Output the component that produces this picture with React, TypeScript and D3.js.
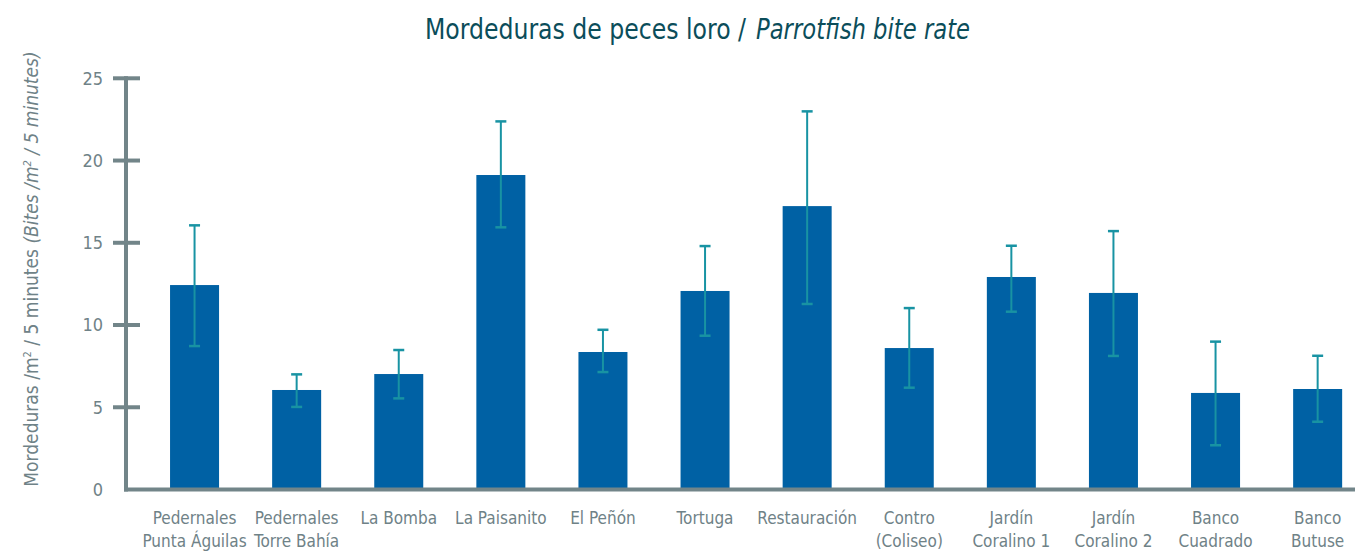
import React from "react";
import * as d3 from "d3";

const categories: string[][] = [
  ["Pedernales", "Punta Águilas"],
  ["Pedernales", "Torre Bahía"],
  ["La Bomba"],
  ["La Paisanito"],
  ["El Peñón"],
  ["Tortuga"],
  ["Restauración"],
  ["Contro", "(Coliseo)"],
  ["Jardín", "Coralino 1"],
  ["Jardín", "Coralino 2"],
  ["Banco", "Cuadrado"],
  ["Banco", "Butuse"],
];
const values = [12.43, 6.05, 7.02, 19.12, 8.36, 12.07, 17.23, 8.6, 12.92, 11.95, 5.87, 6.11];
const errLow = [8.72, 5.02, 5.54, 15.94, 7.14, 9.35, 11.28, 6.19, 10.81, 8.12, 2.69, 4.12];
const errHigh = [16.06, 7.0, 8.48, 22.38, 9.71, 14.8, 22.99, 11.03, 14.82, 15.71, 8.99, 8.13];
const yTicks = [0, 5, 10, 15, 20, 25];

const W = 1355;
const H = 556;
const FONT = "'Liberation Sans Narrow', 'DejaVu Sans Condensed', 'Roboto', sans-serif";
const AXIS = "#728589";
const BAR = "#0061a4";
const ERR = "#1893a3";
const LABEL = "#6f8287";

export default function App() {
  const ids = categories.map((_, i) => String(i));
  const x = d3.scaleBand<string>().domain(ids).range([143.5, 1368.7]).paddingInner(0.52).paddingOuter(0.26);
  const y = d3.scaleLinear().domain([0, 25]).range([489.5, 78.3]);
  const axisX = 126;

  return (
    <svg width={W} height={H} style={{ position: "absolute", left: 0, top: 0, background: "#fff" }}>
      <text x={425} y={39} textLength={321} lengthAdjust="spacingAndGlyphs" fontFamily={FONT} fontSize={29} fill="#0b4d5a">
        Mordeduras de peces loro /
      </text>
      <text
        x={756}
        y={39}
        textLength={214}
        lengthAdjust="spacingAndGlyphs"
        fontFamily={FONT}
        fontSize={29}
        fontStyle="italic"
        fill="#0b4d5a"
      >
        Parrotfish bite rate
      </text>

      {/* y label */}
      <text
        transform={`translate(38, 269) rotate(-90)`}
        textAnchor="middle"
        fontFamily={FONT}
        fontSize={19}
        fill={LABEL}
      >
        Mordeduras /m<tspan fontSize={11} dy={-7}>2</tspan>
        <tspan dy={7}> / 5 minutes </tspan>
        <tspan fontStyle="italic">(Bites /m</tspan>
        <tspan fontStyle="italic" fontSize={11} dy={-7}>2</tspan>
        <tspan fontStyle="italic" dy={7}> / 5 minutes)</tspan>
      </text>

      {/* bars */}
      {values.map((v, i) => (
        <rect key={"b" + i} x={x(ids[i])} y={y(v)} width={x.bandwidth()} height={y(0) - y(v)} fill={BAR} />
      ))}

      {/* error bars */}
      {values.map((_, i) => {
        const cx = (x(ids[i]) as number) + x.bandwidth() / 2;
        return (
          <g key={"e" + i} stroke={ERR}>
            <line x1={cx} x2={cx} y1={y(errHigh[i])} y2={y(errLow[i])} strokeWidth={2} />
            <line x1={cx - 5.5} x2={cx + 5.5} y1={y(errHigh[i])} y2={y(errHigh[i])} strokeWidth={2.5} />
            <line x1={cx - 5.5} x2={cx + 5.5} y1={y(errLow[i])} y2={y(errLow[i])} strokeWidth={2.5} />
          </g>
        );
      })}

      {/* y axis */}
      <line x1={axisX} x2={axisX} y1={y(25) - 2} y2={y(0) + 2} stroke={AXIS} strokeWidth={4} />
      {yTicks.map((t) => (
        <g key={"t" + t}>
          {t > 0 && <line x1={113} x2={140} y1={y(t)} y2={y(t)} stroke={AXIS} strokeWidth={4} />}
          <text x={103} y={y(t)} dy="0.35em" textAnchor="end" fontFamily={FONT} fontSize={18} fill={LABEL}>
            {t}
          </text>
        </g>
      ))}

      {/* x axis */}
      <line x1={124} x2={W} y1={y(0)} y2={y(0)} stroke={AXIS} strokeWidth={4} />
      {categories.map((lines, i) => {
        const cx = (x(ids[i]) as number) + x.bandwidth() / 2;
        return (
          <text key={"l" + i} x={cx} y={524} textAnchor="middle" fontFamily={FONT} fontSize={17} fill={LABEL}>
            {lines.map((ln, j) => (
              <tspan key={j} x={cx} dy={j === 0 ? 0 : 23}>
                {ln}
              </tspan>
            ))}
          </text>
        );
      })}
    </svg>
  );
}
